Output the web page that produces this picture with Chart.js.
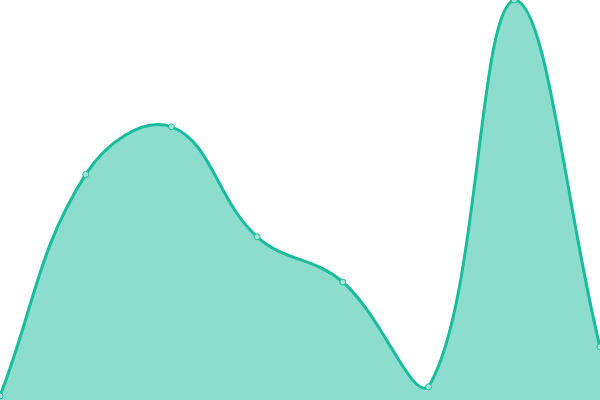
<!DOCTYPE html>
<html lang="en">
<head>
    <meta charset="UTF-8">
    <title>Area</title>
    <script src="https://cdn.jsdelivr.net/npm/chart.js"></script>
    <style>
        html, body { margin: 0; padding: 0; background: #fff; }
        #wrap { width: 600px; height: 400px; }
    </style>
</head>
<body>
    <div id="wrap"><canvas id="c"></canvas></div>
    <script>
        const labels = ['A', 'B', 'C', 'D', 'E', 'F', 'G', 'H'];
        const values = [1, 56.4, 68.3, 40.8, 29.5, 3.3, 100, 13.3];

        new Chart(document.getElementById('c'), {
            type: 'line',
            data: {
                labels: labels,
                datasets: [{
                    data: values,
                    fill: true,
                    tension: 0.4,
                    borderColor: '#1abc9c',
                    backgroundColor: 'rgba(26, 188, 156, 0.5)',
                    borderWidth: 3,
                    pointRadius: 3,
                    pointBorderWidth: 1,
                    pointBackgroundColor: '#a3e6d8',
                    pointBorderColor: '#1abc9c'
                }]
            },
            options: {
                responsive: true,
                maintainAspectRatio: false,
                animation: false,
                layout: { padding: 0, autoPadding: false },
                plugins: { legend: { display: false }, tooltip: { enabled: false } },
                scales: {
                    x: { display: false },
                    y: { display: false, min: 0, max: 100 }
                }
            }
        });
    </script>
</body>
</html>
